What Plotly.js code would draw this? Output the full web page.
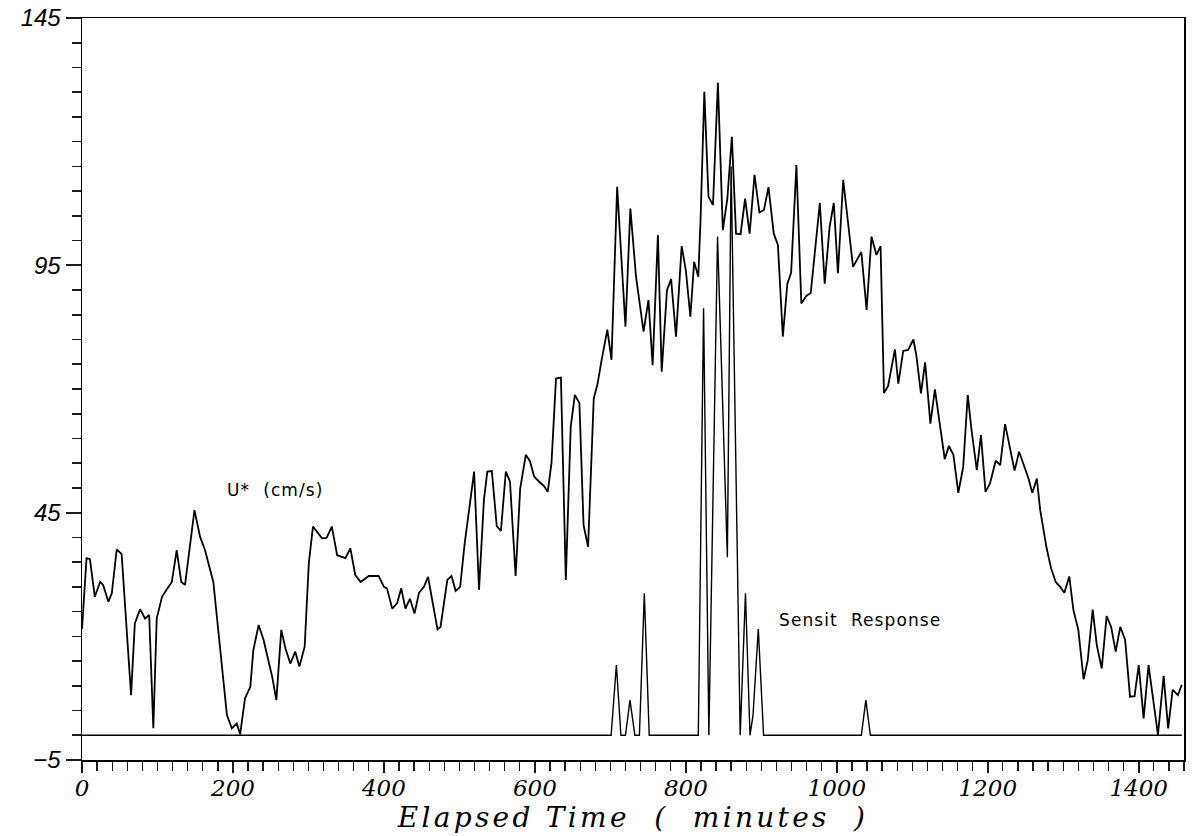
<!DOCTYPE html>
<html>
<head>
<meta charset="utf-8">
<script src="https://cdn.plot.ly/plotly-3.0.1.min.js"></script>
<style>
html,body{margin:0;padding:0;background:#fff;}
#chart{width:1198px;height:836px;}
.xtitle{letter-spacing:3.3px;}
.annotation-text{letter-spacing:1.1px;}
</style>
</head>
<body>
<div id="chart"></div>
<script>
// U* (cm/s) series: elapsed time (minutes) and value
const uTime = [0,6,10.5,17,24,28,35,39.5,46,52.5,65,70,77,83.5,89,94.5,99,106,112,119,125.5,131.5,136.5,149,156.5,163,174,181,185,192,198.5,205,209.5,216,223,227,234,240.5,252,257.5,264,269.5,276,282.5,288,295,300.5,306,318,324,331,338,349,355.5,362,369,380,393,400,404,411,417.5,423,428.5,434.5,440.5,446.5,453,458.5,464,471,475,484,489.5,495,501,507,519.5,526,532.5,537,543,549.5,555,561.5,567,574.5,580.5,588,593.5,599,606,612,617,622,628,634.5,641,647.5,653,659,664.5,670.5,678,683,688,696,701.5,709,720,726.5,734,744,750.5,756,763,768,775,780.5,787,794.5,800,806,811,816.5,819.5,824.5,830,836,842.5,849,855,861,866.5,872.5,878.5,884.5,891,897.5,903.5,909.5,916.5,922,928.5,934.5,939.5,946.5,953,959.5,965.5,977.5,984,990.5,996,1001.5,1008.5,1021.5,1032.5,1039.5,1046,1052.5,1058,1062.5,1068,1077,1081.5,1088,1094.5,1101.5,1105.5,1111.5,1117,1124,1130,1136.5,1143,1148.5,1154.5,1161,1167.5,1173.5,1178.5,1185.5,1191,1197,1203,1210.5,1216.5,1223,1229.5,1235.5,1241.5,1249.5,1254,1259,1265,1269.5,1274,1278,1284,1290,1296,1301.5,1308,1313.5,1320,1327,1332.5,1339,1344.5,1351,1357.5,1363.5,1369.5,1375.5,1382,1388.5,1394.5,1400,1406.5,1413,1425.5,1433,1439,1445,1452,1457];
const uValue = [21.5,35.8,35.6,28.0,31.0,30.4,27.0,28.7,37.6,36.6,8.1,22.6,25.5,23.6,24.3,1.4,23.6,28.0,29.4,31.0,37.4,31.0,30.4,45.5,40.1,37.4,31.0,20.6,13.9,4.1,1.4,2.4,0.2,7.5,9.8,17.2,22.3,19.3,11.8,7.1,21.3,17.6,14.5,16.9,13.9,17.9,34.8,42.2,39.8,39.9,42.2,36.4,35.8,37.8,32.4,31.0,32.2,32.2,30.0,29.7,25.6,26.7,29.7,25.6,27.6,24.6,28.8,30.0,32.0,27.3,21.4,21.9,31.4,32.2,29.2,30.0,38.8,53.3,29.4,47.6,53.3,53.4,42.3,41.3,53.3,51.3,32.2,49.8,56.7,55.4,52.3,51.2,50.4,49.2,55.0,72.1,72.3,31.4,62.4,68.8,67.1,42.5,38.1,68.1,71.0,75.5,82.0,75.9,110.9,82.6,106.5,92.7,81.6,88.0,74.8,101.1,73.5,90.0,92.2,80.6,98.9,94.0,84.6,95.7,92.7,104.2,130.1,108.9,107.2,131.9,102.1,108.5,121.0,101.4,101.3,108.5,101.4,113.3,105.7,106.2,110.8,101.4,99.1,80.6,91.3,93.5,115.3,87.3,88.8,89.4,107.6,91.3,102.8,107.6,93.4,112.3,94.7,97.7,86.0,100.8,97.1,98.9,69.2,70.6,78.0,71.1,77.7,77.9,80.0,76.7,69.1,75.4,63.0,69.9,62.4,55.8,58.5,56.7,49.0,54.3,68.8,61.7,53.6,60.7,49.2,50.9,55.5,54.6,62.9,58.3,53.5,57.3,53.9,51.9,49.0,51.9,45.5,41.1,37.8,33.7,31.0,30.0,28.8,32.1,25.3,21.3,11.3,15.2,25.4,18.2,13.5,24.1,21.9,16.9,21.9,19.3,7.8,7.9,14.2,3.4,14.2,0.1,12.0,1.4,9.2,8.1,10.2];

// Sensit Response series
const sTime = [0,701,708,714,720,726,732.5,738.5,745,751.5,816.5,823.5,830.5,842,855,860,872,879,885,889,896,903,1032.5,1038.5,1044.5,1457];
const sValue = [0,0,14.2,0,0,7.1,0,0,28.7,0,0,86.3,0,100.8,36,115,0,28.7,0,4,21.5,0,0,7.1,0,0];

// Axis ticks
const xRange = [0, 1460];
const yRange = [-5, 145];
const xMajor = 200, xMinor = 20;
const yMajor = 50, yMinor = 5;

const tickCol = '#1a1a1a';

const traces = [
  {x: uTime, y: uValue, type: 'scatter', mode: 'lines', line: {color: '#000', width: 1.8}, hoverinfo: 'skip'},
  {x: sTime, y: sValue, type: 'scatter', mode: 'lines', line: {color: '#000', width: 1.4}, hoverinfo: 'skip'}
];

const layout = {
  width: 1198, height: 836,
  margin: {l: 82, r: 14, t: 18, b: 76},
  paper_bgcolor: '#fff', plot_bgcolor: '#fff',
  showlegend: false,
  xaxis: {
    range: xRange, tickmode: 'linear', tick0: 0, dtick: xMajor,
    ticks: 'outside', ticklen: 11, tickwidth: 1.6, tickcolor: tickCol,
    minor: {dtick: xMinor, tick0: 0, ticks: 'outside', ticklen: 9, tickwidth: 1.3, tickcolor: tickCol, showgrid: false},
    ticklabelstandoff: -4,
    showline: true, linecolor: '#000', linewidth: 1.5, mirror: true,
    showgrid: false, zeroline: false,
    tickfont: {family: 'DejaVu Serif', size: 23, style: 'italic', color: '#000'},
    title: {text: 'Elapsed Time \u00A0(\u00A0 minutes \u00A0)', font: {family: 'DejaVu Serif', size: 28, style: 'italic', color: '#000'}, standoff: 2}
  },
  yaxis: {
    range: yRange, tickmode: 'linear', tick0: -5, dtick: yMajor,
    ticks: 'outside', ticklen: 15, tickwidth: 2, tickcolor: tickCol,
    minor: {dtick: yMinor, tick0: -5, ticks: 'outside', ticklen: 9, tickwidth: 1.6, tickcolor: tickCol, showgrid: false},
    showline: true, linecolor: '#000', linewidth: 1.5, mirror: true,
    showgrid: false, zeroline: false,
    tickfont: {family: 'Liberation Sans', size: 24, style: 'italic', color: '#000'}
  },
  annotations: [
    {x: 190, y: 49.6, xref: 'x', yref: 'y', xanchor: 'left', text: 'U* \u00A0(cm/s)', showarrow: false,
     font: {family: 'DejaVu Sans', size: 17, color: '#000'}},
    {x: 921, y: 23.3, xref: 'x', yref: 'y', xanchor: 'left', text: 'Sensit \u00A0Response', showarrow: false,
     font: {family: 'DejaVu Sans', size: 17, color: '#000'}}
  ]
};

Plotly.newPlot('chart', traces, layout, {displayModeBar: false, staticPlot: true});
</script>
</body>
</html>
